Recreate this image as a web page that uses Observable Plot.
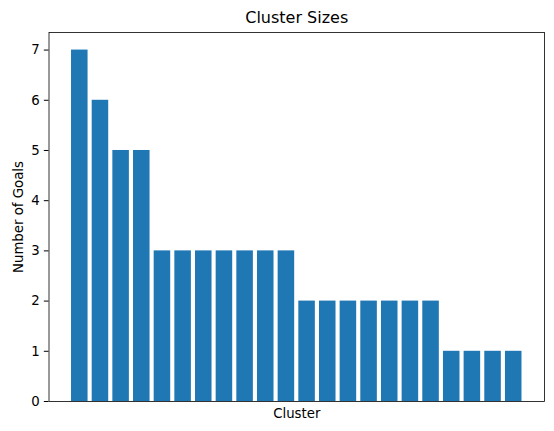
<!DOCTYPE html>
<html><head><meta charset="utf-8">
<script src="https://cdn.jsdelivr.net/npm/d3@7"></script>
<script src="https://cdn.jsdelivr.net/npm/@observablehq/plot@0.6"></script>
<style>html,body{margin:0;padding:0;background:#fff} svg{display:block}</style>
</head><body><div id="chart"></div>
<script>
const clusters = ["0","1","2","3","4","5","6","7","8","9","10","11","12","13","14","15","16","17","18","19","20","21"];
const sizes = [7,6,5,5,3,3,3,3,3,3,3,2,2,2,2,2,2,2,1,1,1,1];
const yTicks = [0,1,2,3,4,5,6,7];
const title = "Cluster Sizes";
const xLabel = "Cluster";
const yLabel = "Number of Goals";

const data = clusters.map((c, i) => ({cluster: c, size: sizes[i]}));

const chart = Plot.plot({
  width: 554, height: 431,
  marginLeft: 48.5, marginRight: 10, marginTop: 32, marginBottom: 30,
  style: {fontFamily: "DejaVu Sans", fontSize: "13.3px", color: "#000", background: "#fff"},
  x: {type: "band", domain: clusters, paddingInner: 0.2, paddingOuter: 1.09, round: false, axis: null},
  y: {domain: [0, 7.35], axis: null},
  marks: [
    Plot.barY(data, {x: "cluster", y: "size", fill: "#1f77b4"}),
    Plot.axisY(yTicks, {tickSize: 4.67, tickPadding: 4.67, tickFormat: d3.format("d"), label: null, fontSize: 13.3, stroke: "#000"}),
    Plot.frame({stroke: "#000", strokeWidth: 0.8}),
    Plot.text([title], {frameAnchor: "top", lineAnchor: "middle", dy: -15, fontSize: 16, fill: "#000"}),
    Plot.text([xLabel], {frameAnchor: "bottom", lineAnchor: "middle", dy: 12, fontSize: 13.3, fill: "#000"}),
    Plot.text([yLabel], {frameAnchor: "left", textAnchor: "middle", lineAnchor: "middle", rotate: -90, dx: -30.5, fontSize: 13.3, fill: "#000"})
  ]
});
document.getElementById("chart").appendChild(chart);
</script>
</body></html>
